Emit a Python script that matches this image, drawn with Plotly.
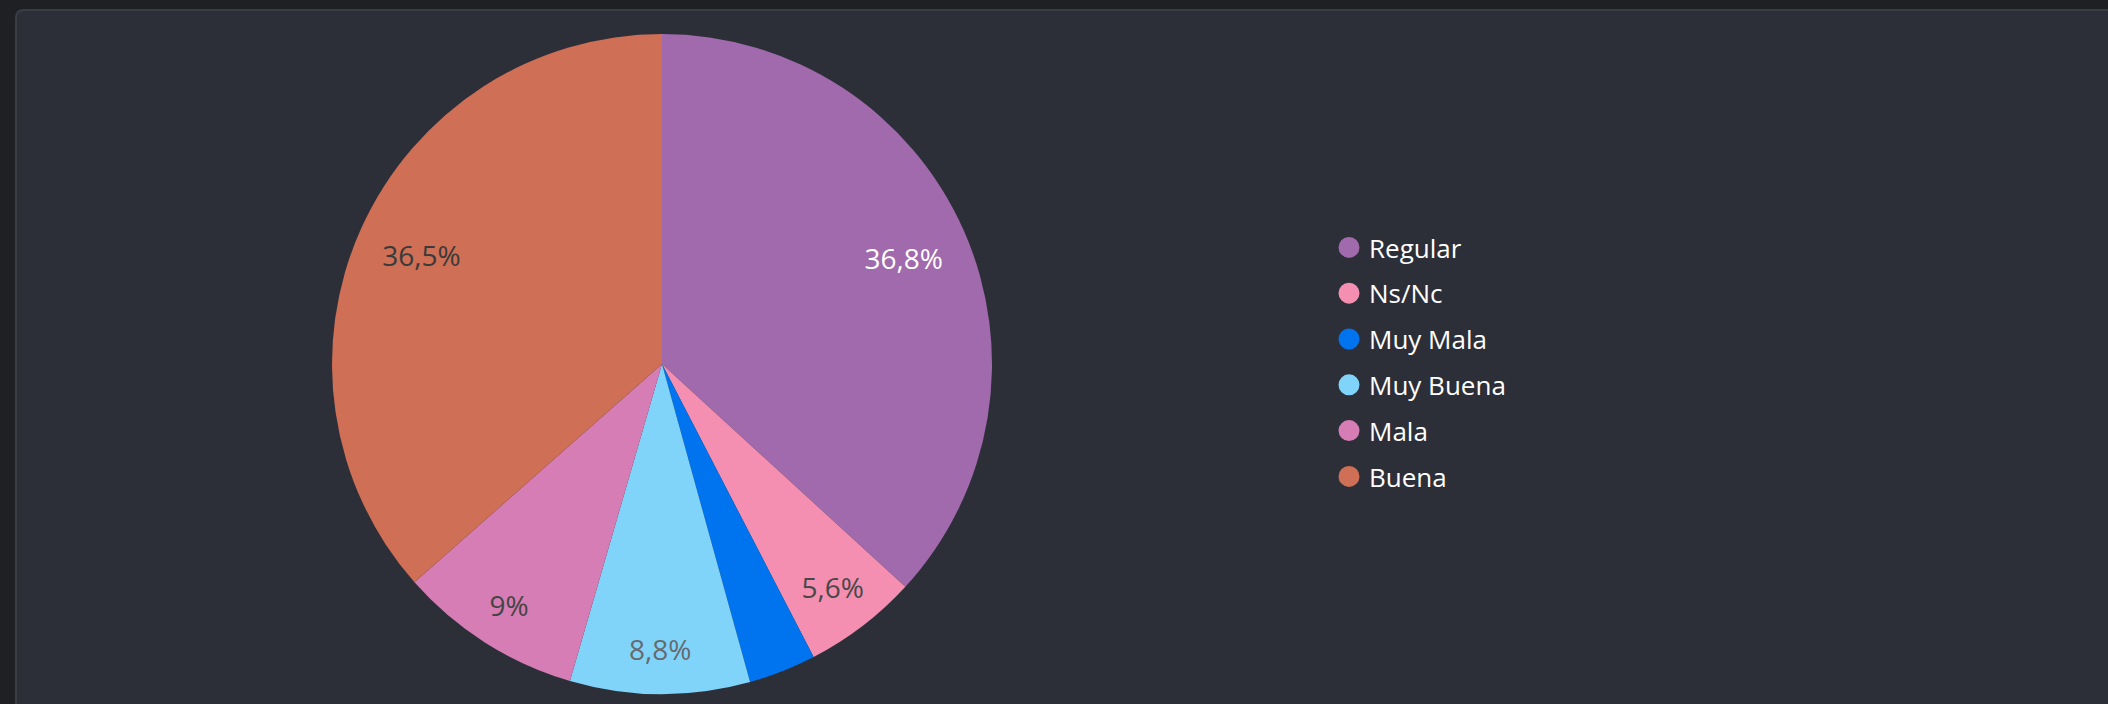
import plotly.graph_objects as go

W, H = 2108, 704

categories = ["Regular", "Ns/Nc", "Muy Mala", "Muy Buena", "Mala", "Buena"]
values = [36.8, 5.6, 3.3, 8.8, 9.0, 36.5]
colors = ["#a06aad", "#f48fb1", "#0073ee", "#80d4fa", "#d67db5", "#cf6f55"]
label_colors = ["#ffffff", "#484848", "#454545", "#666a6e", "#444444", "#3a3a3a"]
# which text ring each label sits in (0 = no label)
label_ring = [1, 3, 0, 2, 2, 1]

def pct(v):
    return f"{v:g}%".replace(".", ",")

cx, cy, r = 662, 364, 330
dom = dict(x=[(cx - r) / W, (cx + r) / W], y=[(H - cy - r) / H, (H - cy + r) / H])
common = dict(labels=categories, values=values, sort=False, direction="clockwise",
              rotation=0, showlegend=False, domain=dom, hoverinfo="label+percent")

fig = go.Figure()
# full pie (coloured slices)
fig.add_trace(go.Pie(textinfo="none",
                     marker=dict(colors=colors, line=dict(width=0)), **common))
# transparent rings carrying the labels at the right distance from the centre
for ring, hole in ((1, 0.6), (2, 0.73), (3, 0.5)):
    fig.add_trace(go.Pie(
        text=[pct(v) if g == ring else "" for v, g in zip(values, label_ring)],
        textinfo="text", textposition="inside", insidetextorientation="horizontal",
        hole=hole,
        marker=dict(colors=["rgba(0,0,0,0)"] * len(values), line=dict(width=0)),
        textfont=dict(family="Open Sans", size=28, color=label_colors),
        **common,
    ))

for i, (name, col) in enumerate(zip(categories, colors)):
    fig.add_trace(go.Scatter(
        x=[None], y=[None], mode="markers", name=name,
        legendgroup=f"g{i}",
        marker=dict(symbol="circle", size=16, color=col, line=dict(color=col, width=5)),
        showlegend=True,
    ))

# card background with rounded top-left corner
x0, y0 = 16 / W, 1 - 10 / H
x1, yb = 1.02, -0.05
rx, ry = 8 / W, 8 / H
card_path = (f"M {x0},{yb} L {x0},{y0 - ry} Q {x0},{y0} {x0 + rx},{y0} "
             f"L {x1},{y0} L {x1},{yb} Z")

fig.update_layout(
    width=W, height=H,
    margin=dict(l=0, r=0, t=0, b=0),
    paper_bgcolor="#1f2023",
    plot_bgcolor="rgba(0,0,0,0)",
    xaxis=dict(visible=False),
    yaxis=dict(visible=False),
    shapes=[dict(type="path", path=card_path, xref="paper", yref="paper",
                 fillcolor="#2d2f38", line=dict(color="#3b3d45", width=2), layer="below")],
    legend=dict(
        x=1329 / W, xanchor="left",
        y=1 - 362 / H, yanchor="middle",
        font=dict(family="Open Sans", size=26, color="#ffffff"),
        bgcolor="rgba(0,0,0,0)",
        tracegroupgap=9,
    ),
    font=dict(family="Open Sans"),
)

fig.write_html("out.html", config={"displayModeBar": False},
               post_script="document.body.style.margin='0';document.body.style.overflow='hidden';")
